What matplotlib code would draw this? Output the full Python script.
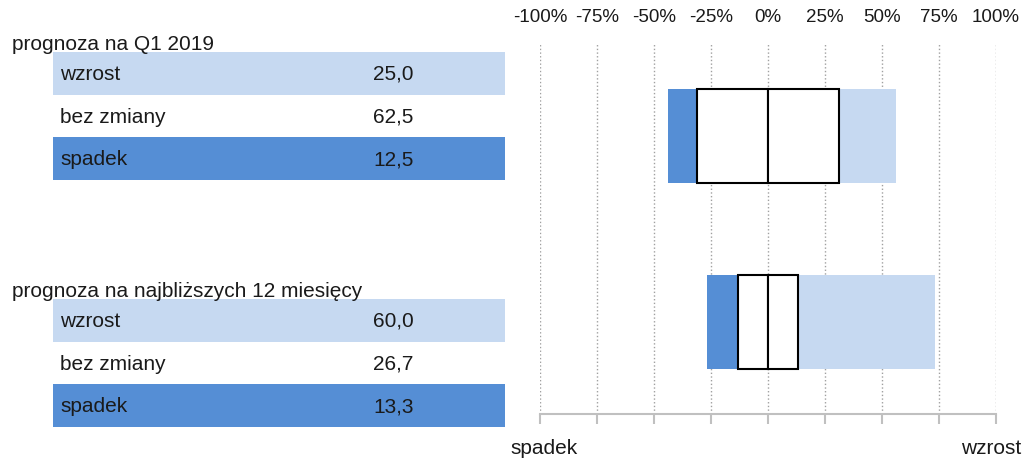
import matplotlib
matplotlib.use('Agg')
import matplotlib.pyplot as plt
from matplotlib.patches import Rectangle

plt.rcParams['font.family'] = ['Liberation Sans', 'DejaVu Sans']

# survey answers, percent of respondents
groups = ['prognoza na Q1 2019', 'prognoza na najbliższych 12 miesięcy']
categories = ['wzrost', 'bez zmiany', 'spadek']
wzrost = [25.0, 60.0]
bez_zmiany = [62.5, 26.7]
spadek = [12.5, 13.3]
ticks = [-100, -75, -50, -25, 0, 25, 50, 75, 100]

light_blue = '#C6D9F1'
blue = '#558ED5'
row_colors = [light_blue, 'white', blue]
txt = '#1a1a1a'
fs = 15

W, H = 1032, 464
fig = plt.figure(figsize=(W / 100, H / 100), dpi=100)

# left side: small table per group, drawn in pixel coords
tab = fig.add_axes([0, 0, 1, 1])
tab.set_xlim(0, W)
tab.set_ylim(H, 0)
tab.axis('off')

group_top = [53, 300]
row_h = 42.7
for g, name in enumerate(groups):
    top = group_top[g]
    tab.text(12, top - 8, name, fontsize=fs, va='center', ha='left', color=txt)
    vals = [wzrost[g], bez_zmiany[g], spadek[g]]
    for r, cat in enumerate(categories):
        y0 = top + r * row_h
        tab.add_patch(Rectangle((53, y0), 452, row_h, facecolor=row_colors[r],
                                edgecolor='none'))
        tab.text(60, y0 + row_h / 2, cat, fontsize=fs, va='center', ha='left', color=txt)
        tab.text(373, y0 + row_h / 2, f'{vals[r]:.1f}'.replace('.', ','),
                 fontsize=fs, va='center', ha='left', color=txt)

tab.text(510, 449, 'spadek', fontsize=fs, va='center', ha='left', color=txt)
tab.text(1021, 449, 'wzrost', fontsize=fs, va='center', ha='right', color=txt)

# right side: diverging bars centred on the "bez zmiany" box
ax = fig.add_axes([540 / W, 1 - 415 / H, 456 / W, 370 / H])
ypos = [1 - i for i in range(len(groups))]
bh = 0.505
for y, wz, bz, sp in zip(ypos, wzrost, bez_zmiany, spadek):
    ax.barh(y, sp, left=-bz / 2 - sp, height=bh, color=blue, edgecolor='none')
    ax.barh(y, wz, left=bz / 2, height=bh, color=light_blue, edgecolor='none')
    ax.barh(y, bz / 2, left=-bz / 2, height=bh, color='white', edgecolor='black', lw=1.5)
    ax.barh(y, bz / 2, left=0, height=bh, color='white', edgecolor='black', lw=1.5)

ax.set_xlim(-100, 100)
ax.set_ylim(-0.495, 1.495)
ax.set_xticks(ticks)
ax.set_xticklabels([f'{t}%' for t in ticks])
ax.set_yticks([])
ax.tick_params(axis='x', top=False, labeltop=True, bottom=True, labelbottom=False,
               direction='out', length=7, width=1.5, color='#C0C0C0',
               labelsize=13.5, pad=7, labelcolor=txt)
for side in ['top', 'left', 'right']:
    ax.spines[side].set_visible(False)
ax.spines['bottom'].set_color('#C0C0C0')
ax.spines['bottom'].set_linewidth(1.5)
ax.set_axisbelow(True)
ax.grid(axis='x', linestyle=':', color='#A0A0A0', lw=1)
ax.patch.set_alpha(0)

plt.savefig('out.png', dpi=100)
